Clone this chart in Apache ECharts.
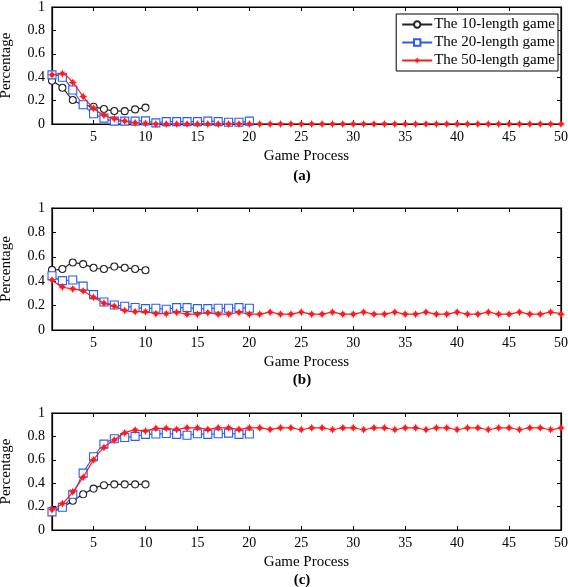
<!DOCTYPE html>
<html>
<head>
<meta charset="utf-8">
<script src="https://cdn.jsdelivr.net/npm/echarts@6/dist/echarts.min.js"></script>
<style>html,body{margin:0;padding:0;background:#fff}#c{width:568px;height:587px}</style>
</head>
<body>
<div id="c"></div>
<script>
// ---- data ----
const steps10 = [1,2,3,4,5,6,7,8,9,10];
const steps20 = [1,2,3,4,5,6,7,8,9,10,11,12,13,14,15,16,17,18,19,20];
const steps50 = [1,2,3,4,5,6,7,8,9,10,11,12,13,14,15,16,17,18,19,20,21,22,23,24,25,26,27,28,29,30,31,32,33,34,35,36,37,38,39,40,41,42,43,44,45,46,47,48,49,50];
const xTickLabels = [5,10,15,20,25,30,35,40,45,50];
const seriesNames = ['The 10-length game','The 20-length game','The 50-length game'];
const panelLabels = ['(a)','(b)','(c)'];

// panel (a)
const a10 = [0.37,0.31,0.205,0.165,0.148,0.128,0.111,0.11,0.125,0.14];
const a20 = [0.42,0.40,0.29,0.165,0.088,0.05,0.025,0.025,0.025,0.027,0.01,0.02,0.02,0.02,0.02,0.025,0.02,0.015,0.015,0.025];
const a50 = [0.42,0.43,0.355,0.235,0.135,0.075,0.045,0.025,0.01,0.005,0,0,0,0,0,0,0,0,0,0,0,0,0,0,0,0,0,0,0,0,0,0,0,0,0,0,0,0,0,0,0,0,0,0,0,0,0,0,0,0];
// panel (b)
const b10 = [0.493,0.5,0.553,0.54,0.51,0.5,0.52,0.51,0.5,0.49];
const b20 = [0.445,0.405,0.41,0.36,0.29,0.23,0.205,0.195,0.185,0.175,0.178,0.17,0.183,0.183,0.175,0.175,0.178,0.178,0.183,0.178];
const b50 = [0.41,0.353,0.337,0.32,0.268,0.22,0.195,0.16,0.15,0.15,0.134,0.134,0.145,0.13,0.13,0.142,0.13,0.13,0.145,0.13,0.13,0.146,0.13,0.13,0.146,0.13,0.13,0.146,0.13,0.13,0.146,0.13,0.13,0.146,0.13,0.13,0.146,0.13,0.13,0.146,0.13,0.13,0.146,0.13,0.13,0.146,0.13,0.13,0.146,0.13];
// panel (c)
const c10 = [0.166,0.194,0.25,0.305,0.354,0.383,0.39,0.39,0.39,0.39];
const c20 = [0.155,0.194,0.305,0.486,0.626,0.734,0.78,0.79,0.8,0.817,0.82,0.825,0.817,0.81,0.823,0.817,0.823,0.828,0.817,0.82];
const c50 = [0.174,0.226,0.326,0.451,0.6,0.706,0.77,0.83,0.854,0.846,0.869,0.869,0.86,0.873,0.873,0.86,0.873,0.873,0.86,0.873,0.873,0.86,0.873,0.873,0.858,0.873,0.873,0.858,0.873,0.873,0.858,0.873,0.873,0.858,0.873,0.873,0.858,0.873,0.873,0.858,0.873,0.873,0.858,0.873,0.873,0.858,0.873,0.873,0.858,0.873];

const panels = [[a10,a20,a50],[b10,b20,b50],[c10,c20,c50]];
const stepSets = [steps10, steps20, steps50];

// ---- style ----
const FONT = 'Liberation Serif';
const colors = ['#222222','#2a5cf0','#ff1a1a'];
const symbols = ['circle','rect','path://M0,-10 L3,-4 L7,-7 L4,-3 L10,0 L4,3 L7,7 L3,4 L0,10 L-3,4 L-7,7 L-4,3 L-10,0 L-4,-3 L-7,-7 L-3,-4 Z'];
const symbolSizes = [7,8,8];
const grids = [
  {left:52, right:7, top:7, height:117},
  {left:52, right:7, top:208, height:122},
  {left:52, right:7, top:413, height:117}
];
const labelCenters = [173, 377, 577];

const xAxis = [], yAxis = [], series = [], title = [];
grids.forEach((g, i) => {
  g.show = true; g.borderColor = '#000'; g.borderWidth = 1.2; g.backgroundColor = 'transparent';
  g.outerBoundsMode = 'none';
  xAxis.push({
    type:'value', gridIndex:i, min:1, max:50, position:'bottom',
    name:'Game Process', nameLocation:'middle', nameGap:25,
    nameTextStyle:{fontFamily:FONT, fontSize:15, color:'#000'},
    axisLine:{show:true, onZero:false, lineStyle:{color:'#000', width:1.2}},
    axisTick:{show:true, inside:true, length:4, customValues:xTickLabels, lineStyle:{color:'#000'}},
    axisLabel:{customValues:xTickLabels, fontFamily:FONT, fontSize:14, color:'#000', margin:6},
    splitLine:{show:false}
  });
  xAxis.push({
    type:'value', gridIndex:i, min:1, max:50, position:'top',
    axisLine:{show:true, onZero:false, lineStyle:{color:'#000', width:1.2}},
    axisTick:{show:true, inside:true, length:4, customValues:xTickLabels, lineStyle:{color:'#000'}},
    axisLabel:{show:false}, splitLine:{show:false}
  });
  yAxis.push({
    type:'value', gridIndex:i, min:0, max:1, interval:0.2, position:'left',
    name:'Percentage', nameLocation:'middle', nameGap:38,
    nameTextStyle:{fontFamily:FONT, fontSize:15, color:'#000'},
    axisLine:{show:true, onZero:false, lineStyle:{color:'#000', width:1.2}},
    axisTick:{show:true, inside:true, length:4, lineStyle:{color:'#000'}},
    axisLabel:{fontFamily:FONT, fontSize:14, color:'#000', margin:7},
    splitLine:{show:false}
  });
  yAxis.push({
    type:'value', gridIndex:i, min:0, max:1, interval:0.2, position:'right',
    axisLine:{show:true, onZero:false, lineStyle:{color:'#000', width:1.2}},
    axisTick:{show:true, inside:true, length:4, lineStyle:{color:'#000'}},
    axisLabel:{show:false}, splitLine:{show:false}
  });
  panels[i].forEach((vals, k) => {
    series.push({
      name: seriesNames[k], type:'line',
      xAxisIndex: 2*i, yAxisIndex: 2*i,
      data: stepSets[k].map((x, j) => [x, vals[j]]),
      smooth: 0.3,
      symbol: symbols[k], symbolSize: symbolSizes[k],
      showAllSymbol: true,
      lineStyle:{color:colors[k], width:1.2},
      itemStyle: k === 2 ? {color:colors[k], borderWidth:0}
                         : {color:'#fff', borderColor:colors[k], borderWidth:1.1},
      emphasis:{disabled:true},
      animation:false, z: 2 + k
    });
  });
  title.push({
    text: panelLabels[i], left: 297, top: labelCenters[i] - 9,
    textAlign:'center',
    textStyle:{fontFamily:FONT, fontSize:15, fontWeight:'bold', color:'#000'}
  });
});

const chart = echarts.init(document.getElementById('c'), null, {renderer:'canvas'});
chart.setOption({
  animation:false,
  backgroundColor:'#fff',
  title: title,
  grid: grids,
  xAxis: xAxis,
  yAxis: yAxis,
  legend: {
    data: seriesNames, orient:'vertical', right:10, top:14,
    itemWidth:30, itemHeight:8, itemGap:3,
    backgroundColor:'#fff', borderColor:'#000', borderWidth:1, borderRadius:0,
    padding:[3,3,3,5],
    textStyle:{fontFamily:FONT, fontSize:15, lineHeight:15, color:'#000', padding:[0,0,0,-3]}
  },
  series: series
});
</script>
</body>
</html>
